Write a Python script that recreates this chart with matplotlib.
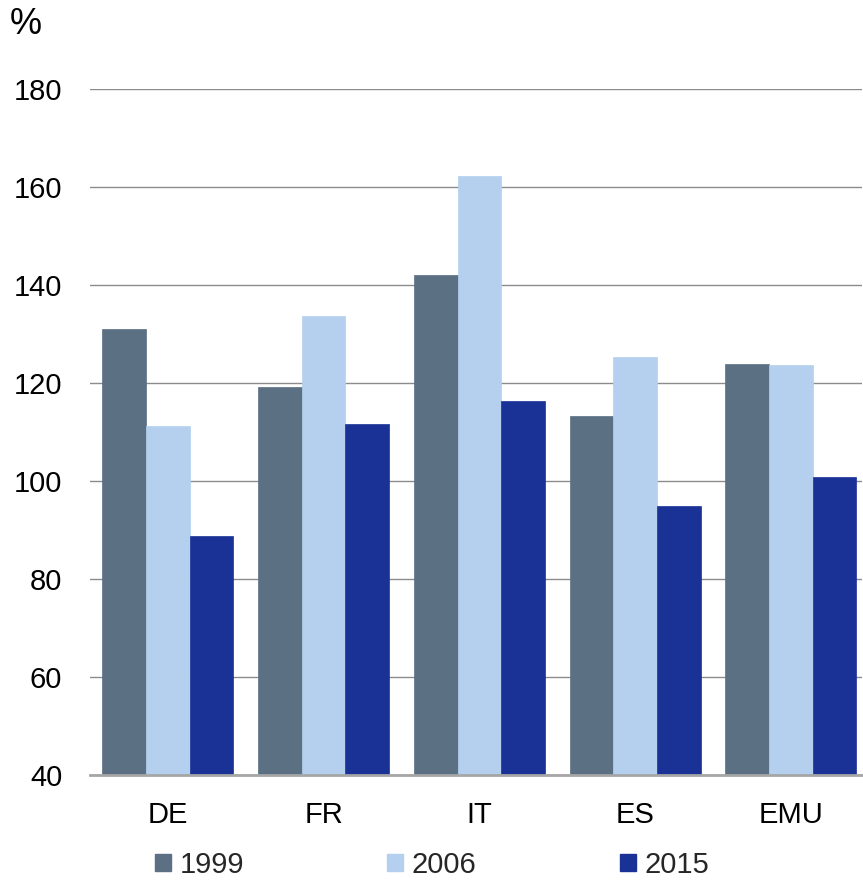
import matplotlib.pyplot as plt
import numpy as np
from matplotlib.patches import Patch

plt.rcParams["font.family"] = ["Liberation Sans", "DejaVu Sans"]

countries = ["DE", "FR", "IT", "ES", "EMU"]
years = ["1999", "2006", "2015"]
v1999 = [131.0, 119.2, 142.0, 113.2, 123.8]
v2006 = [111.2, 133.6, 162.3, 125.4, 123.7]
v2015 = [88.8, 111.7, 116.4, 94.8, 100.9]
colors = ["#5b7083", "#b4d0ee", "#1a3296"]

fig = plt.figure(figsize=(8.63, 8.81), dpi=100)
ax = fig.add_axes([90 / 863, (881 - 775) / 881, 772 / 863, 686 / 881])

x = np.arange(len(countries))
w = 0.28
for i, (vals, c) in enumerate(zip([v1999, v2006, v2015], colors)):
    ax.bar(x + (i - 1) * w, np.array(vals) - 40, bottom=40, width=w,
           color=c, edgecolor=c, linewidth=0.5, zorder=3)

ax.set_ylim(40, 180)
ax.set_xlim(-0.5, -0.5 + 772 / 155.75)
ax.set_yticks(range(40, 181, 20))
ax.set_xticks(x)
ax.set_xticklabels(countries)
ax.grid(axis="y", color="#8c8c8c", linewidth=1.0, zorder=0)
for s in ["top", "right", "left"]:
    ax.spines[s].set_visible(False)
ax.spines["bottom"].set_color("#a6a6a6")
ax.spines["bottom"].set_linewidth(2)
ax.spines["bottom"].set_zorder(4)
ax.tick_params(axis="both", length=0, labelsize=21, colors="black")
ax.tick_params(axis="y", pad=20)
ax.tick_params(axis="x", pad=19)

fig.text(10 / 863, 1 - 24 / 881, "%", fontsize=26, va="center", ha="left")

handles = [Patch(facecolor=c, edgecolor=c) for c in colors]
fig.legend(handles, years, ncol=3, loc="center", bbox_to_anchor=(432 / 863, 1 - 865 / 881),
           frameon=False, fontsize=21, handlelength=0.55, handleheight=0.55,
           handletextpad=0.3, columnspacing=4.9, labelcolor="#262626",
           borderpad=0, borderaxespad=0)

fig.savefig("out.png", dpi=100)
